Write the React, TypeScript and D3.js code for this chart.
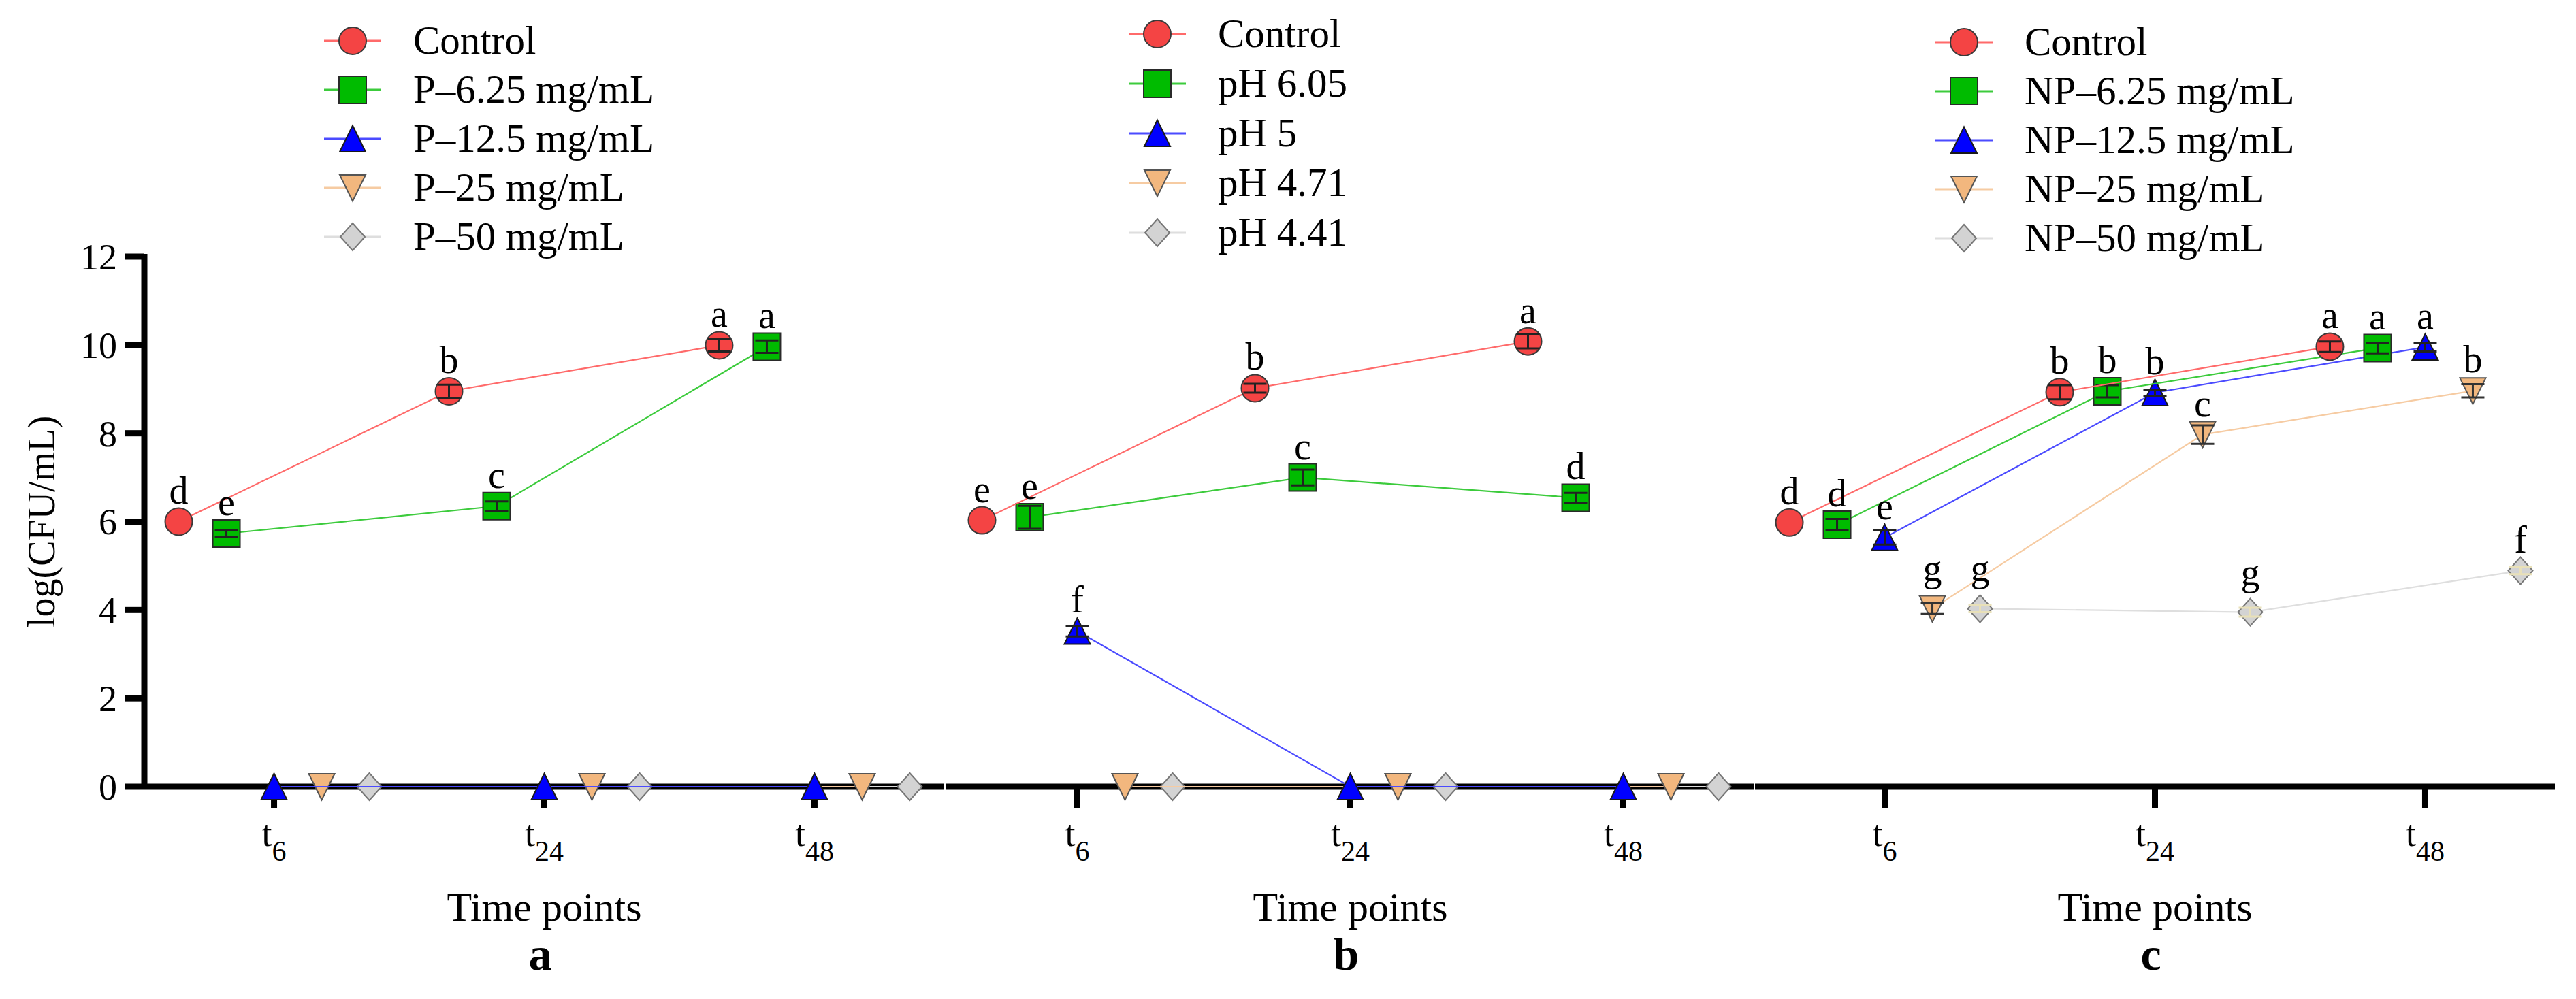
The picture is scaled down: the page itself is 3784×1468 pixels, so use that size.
import React from "react";
import * as d3 from "d3";

const W = 3784;
const H = 1468;

const timePoints = ["t6", "t24", "t48"];
const timeSubs = ["6", "24", "48"];
const yTicks = [0, 2, 4, 6, 8, 10, 12];
const panelLetters = ["a", "b", "c"];

// Panel a
const seriesA = ["Control", "P\u20136.25 mg/mL", "P\u201312.5 mg/mL", "P\u201325 mg/mL", "P\u201350 mg/mL"];
const aControl = [6.0, 8.95, 9.99];
const aP625 = [5.73, 6.35, 9.96];
const aP125 = [0, 0, 0];
const aP25 = [0, 0, 0];
const aP50 = [0, 0, 0];
const aControlSd = [0, 0.15, 0.14];
const aP625Sd = [0.08, 0.11, 0.14];
const aZeroSd = [0, 0, 0];
const aControlLbl = ["d", "b", "a"];
const aP625Lbl = ["e", "c", "a"];
const noLbl = ["", "", ""];

// Panel b
const seriesB = ["Control", "pH 6.05", "pH 5", "pH 4.71", "pH 4.41"];
const bControl = [6.03, 9.02, 10.08];
const bPH605 = [6.1, 7.0, 6.54];
const bPH5 = [3.52, 0, 0];
const bPH471 = [0, 0, 0];
const bPH441 = [0, 0, 0];
const bControlSd = [0, 0.1, 0.16];
const bPH605Sd = [0.26, 0.18, 0.11];
const bPH5Sd = [0.12, 0, 0];
const bControlLbl = ["e", "b", "a"];
const bPH605Lbl = ["e", "c", "d"];
const bPH5Lbl = ["f", "", ""];

// Panel c
const seriesC = ["Control", "NP\u20136.25 mg/mL", "NP\u201312.5 mg/mL", "NP\u201325 mg/mL", "NP\u201350 mg/mL"];
const cControl = [5.98, 8.93, 9.96];
const cNP625 = [5.93, 8.95, 9.93];
const cNP125 = [5.64, 8.92, 9.95];
const cNP25 = [4.03, 7.97, 8.96];
const cNP50 = [4.03, 3.95, 4.89];
const cControlSd = [0, 0.16, 0.12];
const cNP625Sd = [0.13, 0.14, 0.12];
const cNP125Sd = [0.16, 0.07, 0.1];
const cNP25Sd = [0.12, 0.21, 0.15];
const cNP50Sd = [0.08, 0.1, 0.08];
const cControlLbl = ["d", "b", "a"];
const cNP625Lbl = ["d", "b", "a"];
const cNP125Lbl = ["e", "b", "a"];
const cNP25Lbl = ["g", "c", "b"];
const cNP50Lbl = ["g", "g", "f"];

const panelsData = [
  {
    names: seriesA,
    values: [aControl, aP625, aP125, aP25, aP50],
    sds: [aControlSd, aP625Sd, aZeroSd, aZeroSd, aZeroSd],
    labels: [aControlLbl, aP625Lbl, noLbl, noLbl, noLbl],
  },
  {
    names: seriesB,
    values: [bControl, bPH605, bPH5, bPH471, bPH441],
    sds: [bControlSd, bPH605Sd, bPH5Sd, aZeroSd, aZeroSd],
    labels: [bControlLbl, bPH605Lbl, bPH5Lbl, noLbl, noLbl],
  },
  {
    names: seriesC,
    values: [cControl, cNP625, cNP125, cNP25, cNP50],
    sds: [cControlSd, cNP625Sd, cNP125Sd, cNP25Sd, cNP50Sd],
    labels: [cControlLbl, cNP625Lbl, cNP125Lbl, cNP25Lbl, cNP50Lbl],
  },
];

// Layout / style
const layout = [
  { x0: 212, x1: 1387, legendX: 518, legendY: 60, legendStep: 72 },
  { x0: 1390, x1: 2577, legendX: 1700, legendY: 50, legendStep: 73 },
  { x0: 2578, x1: 3753, legendX: 2885, legendY: 62, legendStep: 72 },
];

const FONT = "Liberation Serif, DejaVu Serif, serif";
const fills = ["#F44444", "#00BB00", "#0000FF", "#F2B77E", "#D3D3D3"];
const strokes = ["#3a3a3a", "#2a2a2a", "#1a1a1a", "#555555", "#777777"];
const lineColors = ["#FF6A6A", "#3CCB3C", "#4B4BFF", "#F6CBA2", "#DEDEDE"];
const errColors = ["#222222", "#222222", "#222222", "#333333", "#E8E0B8"];
const shapes = ["circle", "square", "triUp", "triDown", "diamond"];

const yScale = d3.scaleLinear().domain([0, 12]).range([1156, 377]);
const offsetScale = d3.scalePoint<number>().domain(d3.range(5)).range([-140, 140]);

function markerPath(shape: string): string {
  const p = d3.path();
  if (shape === "circle") {
    p.arc(0, 0, 20, 0, Math.PI * 2);
  } else if (shape === "square") {
    p.rect(-20, -20, 40, 40);
  } else if (shape === "triUp") {
    p.moveTo(0, -19.5);
    p.lineTo(19, 19);
    p.lineTo(-19, 19);
    p.closePath();
  } else if (shape === "triDown") {
    p.moveTo(-19, -19);
    p.lineTo(19, -19);
    p.lineTo(0, 19.5);
    p.closePath();
  } else {
    p.moveTo(0, -20);
    p.lineTo(18, 0);
    p.lineTo(0, 20);
    p.lineTo(-18, 0);
    p.closePath();
  }
  return p.toString();
}

function Marker({ i, x, y }: { i: number; x: number; y: number }) {
  return (
    <path
      d={markerPath(shapes[i])}
      transform={`translate(${x},${y})`}
      fill={fills[i]}
      stroke={strokes[i]}
      strokeWidth={2}
    />
  );
}

function Panel({ pi }: { pi: number }) {
  const L = layout[pi];
  const D = panelsData[pi];
  const x = d3.scalePoint<string>().domain(timePoints).range([L.x0, L.x1]).padding(0.48);
  const line = d3
    .line<[number, number]>()
    .x((d) => d[0])
    .y((d) => d[1]);
  const order = [4, 3, 2, 1, 0];
  const midX = x("t24") as number;
  return (
    <g>
      {/* x axis */}
      <line x1={L.x0} x2={L.x1} y1={yScale(0)} y2={yScale(0)} stroke="#000" strokeWidth={9} />
      {timePoints.map((t, k) => (
        <g key={t}>
          <line
            x1={x(t)}
            x2={x(t)}
            y1={yScale(0)}
            y2={yScale(0) + 32}
            stroke="#000"
            strokeWidth={9}
          />
          <text x={x(t)} y={1243} textAnchor="middle" style={{ fontFamily: FONT }} fontSize={54} fill="#000">
            t<tspan fontSize={42} dy={22}>{timeSubs[k]}</tspan>
          </text>
        </g>
      ))}
      <text x={midX} y={1353} textAnchor="middle" style={{ fontFamily: FONT }} fontSize={60} fill="#000">
        Time points
      </text>
      <text
        x={midX - 6}
        y={1425}
        textAnchor="middle"
        style={{ fontFamily: FONT }}
        fontSize={68}
        fontWeight="bold"
        fill="#000"
      >
        {panelLetters[pi]}
      </text>

      {/* series */}
      {order.map((si) => {
        const pts: [number, number][] = D.values[si].map((v, k) => [
          (x(timePoints[k]) as number) + (offsetScale(si) as number),
          yScale(v),
        ]);
        return (
          <g key={si}>
            <path d={line(pts) || ""} fill="none" stroke={lineColors[si]} strokeWidth={2.2} />
            {pts.map((p, k) => (
              <Marker key={k} i={si} x={p[0]} y={p[1]} />
            ))}
            {pts.map((p, k) => {
              const sd = D.sds[si][k];
              if (!sd) return null;
              const yt = yScale(D.values[si][k] + sd);
              const yb = yScale(D.values[si][k] - sd);
              return (
                <g key={"e" + k} stroke={errColors[si]} strokeWidth={3}>
                  <line x1={p[0]} x2={p[0]} y1={yt} y2={yb} />
                  <line x1={p[0] - 17} x2={p[0] + 17} y1={yt} y2={yt} />
                  <line x1={p[0] - 17} x2={p[0] + 17} y1={yb} y2={yb} />
                </g>
              );
            })}
          </g>
        );
      })}

      {/* significance letters */}
      {D.labels.map((lbls, si) =>
        lbls.map((l, k) =>
          l ? (
            <text
              key={si + "-" + k}
              x={(x(timePoints[k]) as number) + (offsetScale(si) as number)}
              y={yScale(D.values[si][k]) - (l === "g" ? 40 : 27)}
              textAnchor="middle"
              style={{ fontFamily: FONT }}
              fontSize={56}
              fill="#000"
            >
              {l}
            </text>
          ) : null
        )
      )}

      {/* legend */}
      {D.names.map((n, si) => {
        const ly = L.legendY + si * L.legendStep;
        return (
          <g key={n}>
            <line
              x1={L.legendX - 42}
              x2={L.legendX + 42}
              y1={ly}
              y2={ly}
              stroke={lineColors[si]}
              strokeWidth={3}
            />
            <Marker i={si} x={L.legendX} y={ly} />
            <text x={L.legendX + 89} y={ly + 19} style={{ fontFamily: FONT }} fontSize={59} fill="#000">
              {n}
            </text>
          </g>
        );
      })}
    </g>
  );
}

export default function App() {
  const yAxisX = layout[0].x0;
  return (
    <svg
      width={W}
      height={H}
      viewBox={`0 0 ${W} ${H}`}
      style={{ position: "absolute", left: 0, top: 0, background: "#fff", fontFamily: FONT }}
    >
      <rect x={0} y={0} width={W} height={H} fill="#fff" />
      {/* y axis */}
      <line x1={yAxisX} x2={yAxisX} y1={yScale(0)} y2={yScale(12) - 4} stroke="#000" strokeWidth={9} />
      {yTicks.map((t) => (
        <g key={t}>
          <line x1={yAxisX - 29} x2={yAxisX} y1={yScale(t)} y2={yScale(t)} stroke="#000" strokeWidth={9} />
          <text
            x={172}
            y={yScale(t)}
            dy="0.35em"
            textAnchor="end"
            style={{ fontFamily: FONT }}
            fontSize={54}
            fill="#000"
          >
            {t}
          </text>
        </g>
      ))}
      <text
        transform={`translate(80,${(yScale(0) + yScale(12)) / 2}) rotate(-90)`}
        textAnchor="middle"
        style={{ fontFamily: FONT }}
        fontSize={56}
        fill="#000"
      >
        log(CFU/mL)
      </text>
      {[0, 1, 2].map((pi) => (
        <Panel key={pi} pi={pi} />
      ))}
    </svg>
  );
}
